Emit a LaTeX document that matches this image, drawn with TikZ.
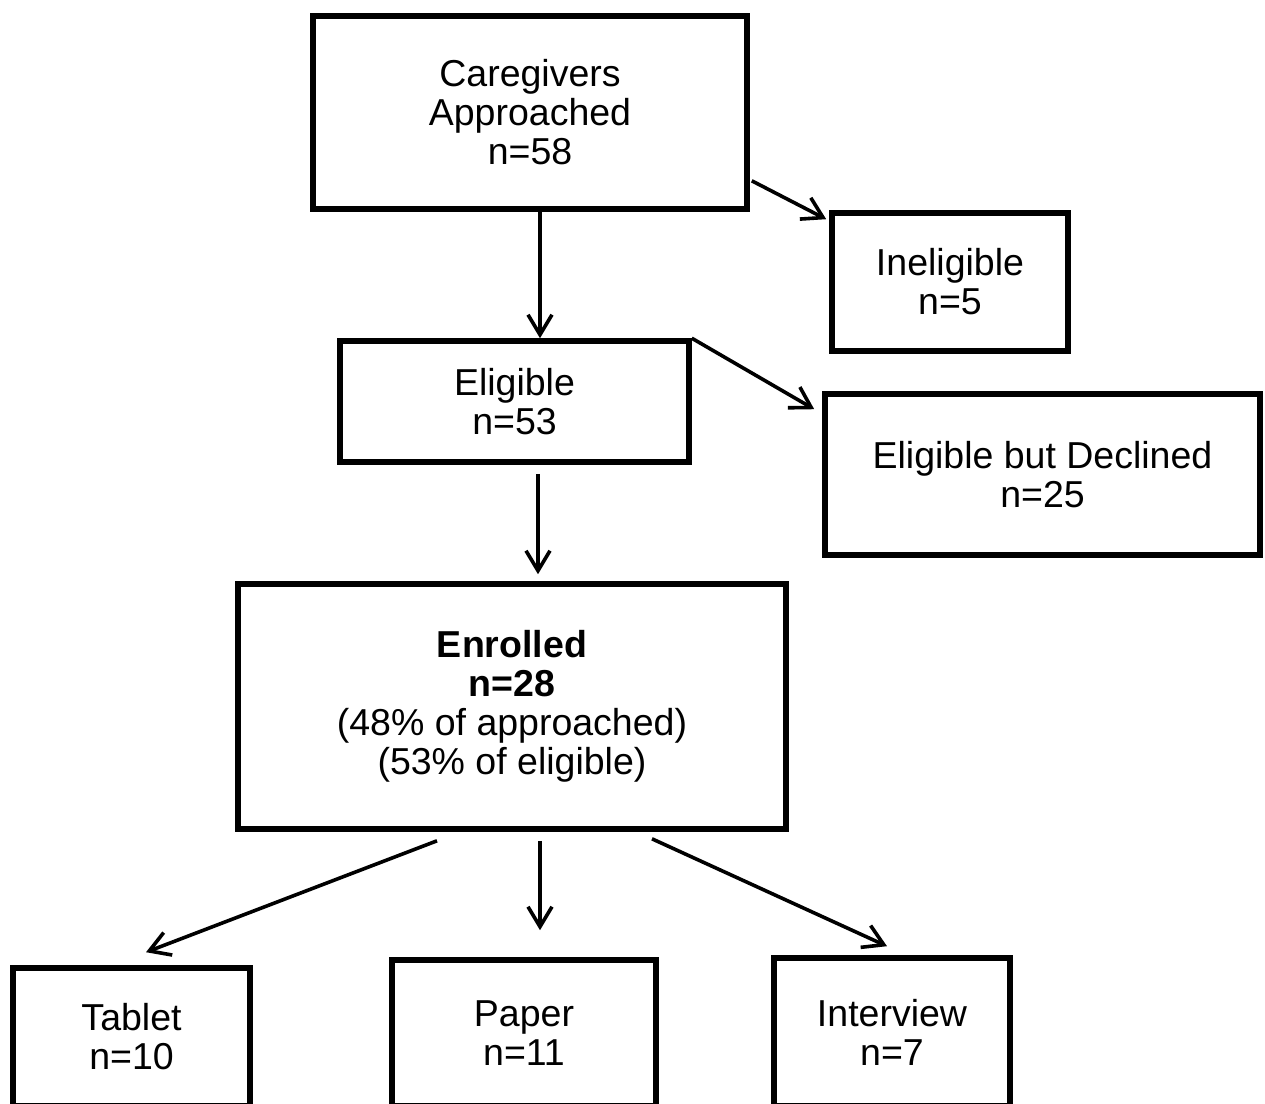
\documentclass[tikz,border=0pt]{standalone}
\usepackage{fontspec}
\setmainfont{Liberation Sans}
\usetikzlibrary{arrows.meta,calc}
\begin{document}
\begin{tikzpicture}[x=0.5pt,y=-0.5pt,
  box/.style={draw, line width=2.8pt, align=center, inner sep=0pt, font=\fontsize{18.75}{19.5}\selectfont},
  arr/.style={line width=1.8pt, -{Straight Barb[length=10pt,width=12pt,line width=1.8pt]}}]
\useasboundingbox (0,0) rectangle (1265,1104);
\node[box, minimum width=217pt, minimum height=96.5pt] (cg) at (530,112.5) {Caregivers\\Approached\\n=58};
\node[box, minimum width=118pt, minimum height=69pt] (inel) at (950,282) {Ineligible\\n=5};
\node[box, minimum width=174.5pt, minimum height=60.5pt] (el) at (514.5,401.5) {Eligible\\n=53};
\node[box, minimum width=217.5pt, minimum height=80.5pt] (decl) at (1042.5,474.5) {Eligible but Declined\\n=25};
\node[box, minimum width=274pt, minimum height=122.5pt] (enr) at (512,706.5) {\textbf{Enrolled}\\\textbf{n=28}\\(48\% of approached)\\(53\% of eligible)};
\node[box, minimum width=118.5pt, minimum height=69pt] (tab) at (131.5,1037) {Tablet\\n=10};
\node[box, minimum width=132pt, minimum height=73pt] (pap) at (524,1033) {Paper\\n=11};
\node[box, minimum width=118pt, minimum height=74pt] (int) at (892,1032) {Interview\\n=7};
\draw[arr] ($(cg.south)+(10,0)$) -- ($(el.north)+(25.5,0)$);
\draw[arr] ($(cg.south east)+(2,-31)$) -- ($(inel.north west)+(-3,9)$);
\draw[arr] (el.north east) -- ($(decl.north west)+(-8,18)$);
\draw[arr] ($(el.south)+(23.5,9)$) -- ($(enr.north)+(26,-7)$);
\draw[arr] ($(enr.south)+(-75,9)$) -- ($(tab.north)+(14.5,-13)$);
\draw[arr] ($(enr.south)+(28,9)$) -- ($(pap.north)+(16,-27)$);
\draw[arr] ($(enr.south)+(140,7)$) -- ($(int.north)+(-5,-9)$);
\end{tikzpicture}
\end{document}
